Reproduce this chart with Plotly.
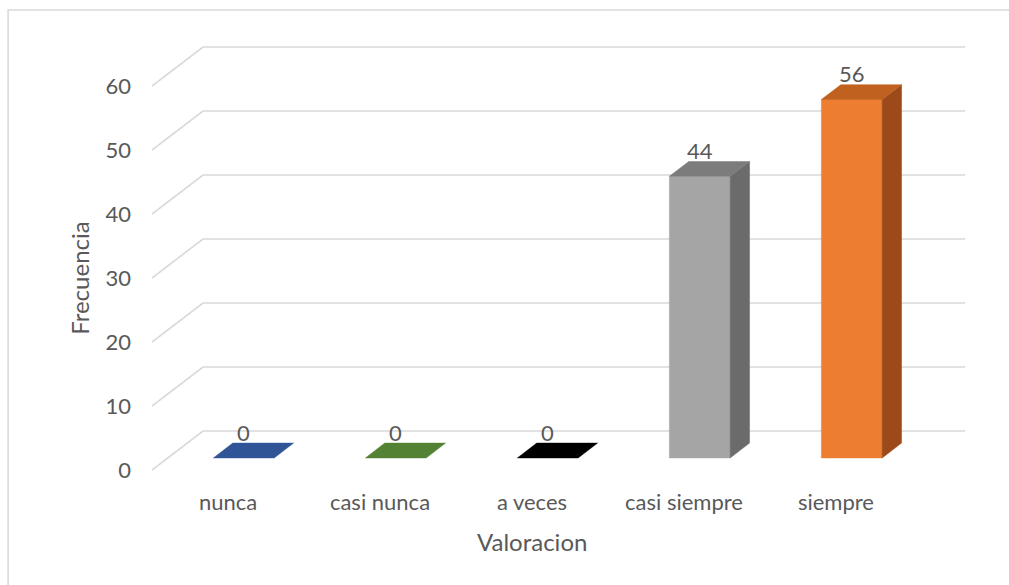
import plotly.graph_objects as go

# Frequency of responses per rating
categorias = ["nunca", "casi nunca", "a veces", "casi siempre", "siempre"]
frecuencias = [0, 0, 0, 44, 56]
y_ticks = [0, 10, 20, 30, 40, 50, 60]

# Face colours per bar: front, top, side
color_frente = ["#2F5597", "#548235", "#000000", "#A5A5A5", "#ED7D31"]
color_tapa = ["#2F5597", "#548235", "#000000", "#7C7C7C", "#C0611F"]
color_lado = ["#203864", "#385723", "#000000", "#6B6B6B", "#9C4A1A"]

# Pseudo-3D projection: depth shifts points right (category units) and up (value units)
DX = 0.3355
DY = 6.094
D0, D1 = 0.31, 0.69       # front / back depth of the bars
HW = 0.2                   # half bar width in category units
X_MIN, X_MAX = -0.5, 4.849
Y_MIN, Y_MAX = -0.78, 67.19

TXT = "#595959"
GRID = "#D9D9D9"
FONT = "Lato"

fig = go.Figure()

# Gridlines: diagonal along the side wall, then across the back wall
for v in y_ticks:
    fig.add_trace(go.Scatter(
        x=[X_MIN, X_MIN + DX, X_MAX],
        y=[v, v + DY, v + DY],
        mode="lines", line=dict(color=GRID, width=1.6),
        hoverinfo="skip", showlegend=False))


def poly(xs, ys, color):
    fig.add_trace(go.Scatter(
        x=xs + [xs[0]], y=ys + [ys[0]], mode="lines", fill="toself",
        fillcolor=color, line=dict(color=color, width=0.5),
        hoverinfo="skip", showlegend=False))


for i, v in enumerate(frecuencias):
    xl = i - HW + D0 * DX
    xr = i + HW + D0 * DX
    y0 = D0 * DY
    y1 = v + D0 * DY
    ddx = (D1 - D0) * DX
    ddy = (D1 - D0) * DY
    if v > 0:
        # front face
        poly([xl, xr, xr, xl], [y0, y0, y1, y1], color_frente[i])
        # right side face
        poly([xr, xr + ddx, xr + ddx, xr], [y0, y0 + ddy, y1 + ddy, y1], color_lado[i])
    # top face
    poly([xl, xr, xr + ddx, xl + ddx], [y1, y1, y1 + ddy, y1 + ddy],
         color_tapa[i] if v > 0 else color_frente[i])
    # value label above the bar
    fig.add_annotation(x=i + D0 * DX, y=v + D1 * DY, text=str(v),
                       showarrow=False, yanchor="middle", yshift=11,
                       font=dict(family=FONT, size=22, color=TXT))

# Axis titles, centred on the front floor edge and the front value axis
n = len(categorias)
fig.add_annotation(x=(n - 1) / 2, xref="x", y=-0.152, yref="paper",
                   text="Valoracion", showarrow=False, yanchor="middle",
                   font=dict(family=FONT, size=24, color=TXT))
fig.add_annotation(x=-0.09, xref="paper", y=y_ticks[-1] / 2, yref="y",
                   text="Frecuencia", showarrow=False, textangle=-90,
                   xanchor="center", yanchor="middle",
                   font=dict(family=FONT, size=24, color=TXT))

# Chart area border
fig.add_shape(type="rect", xref="paper", yref="paper",
              x0=-0.177, y0=-0.3, x1=1.2, y1=1.069,
              line=dict(color=GRID, width=1.5), fillcolor="rgba(0,0,0,0)")

fig.update_layout(
    width=1009, height=585,
    margin=dict(l=152, r=44, t=40, b=110),
    paper_bgcolor="white", plot_bgcolor="white",
    font=dict(family=FONT, color=TXT),
    xaxis=dict(
        range=[X_MIN, X_MAX], tickmode="array",
        tickvals=list(range(n)), ticktext=categorias,
        showgrid=False, zeroline=False, showline=False, ticks="",
        ticklabelstandoff=12,
        tickfont=dict(family=FONT, size=22, color=TXT)),
    yaxis=dict(
        range=[Y_MIN, Y_MAX], tickmode="array", tickvals=y_ticks,
        showgrid=False, zeroline=False, showline=False, ticks="",
        ticklabelstandoff=20,
        tickfont=dict(family=FONT, size=22, color=TXT)),
)

fig.write_html("out.html")
